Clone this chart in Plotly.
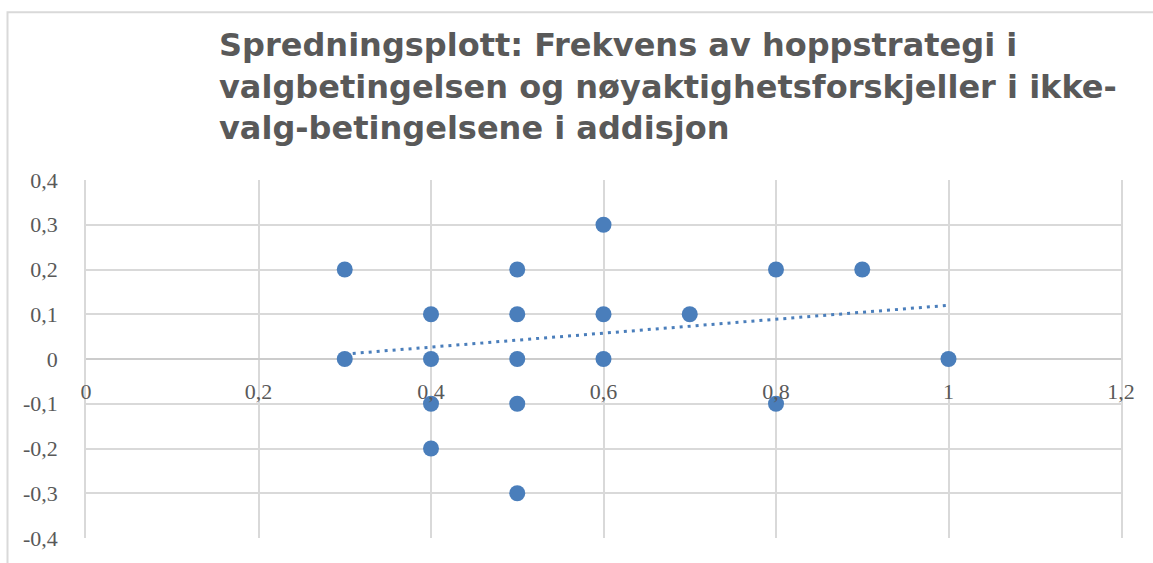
import plotly.graph_objects as go

# Data
hop_freq = [0.3, 0.3, 0.4, 0.4, 0.4, 0.4, 0.5, 0.5, 0.5, 0.5, 0.5,
            0.6, 0.6, 0.6, 0.7, 0.8, 0.8, 0.9, 1.0]
acc_diff = [0.2, 0.0, 0.1, 0.0, -0.1, -0.2, 0.2, 0.1, 0.0, -0.1, -0.3,
            0.3, 0.1, 0.0, 0.1, 0.2, -0.1, 0.2, 0.0]
trend_x = [0.3, 1.0]
trend_y = [0.011, 0.12]
x_ticks = [0, 0.2, 0.4, 0.6, 0.8, 1, 1.2]
x_tick_labels = ["0", "0,2", "0,4", "0,6", "0,8", "1", "1,2"]
y_ticks = [-0.4, -0.3, -0.2, -0.1, 0, 0.1, 0.2, 0.3, 0.4]
y_tick_labels = ["-0,4", "-0,3", "-0,2", "-0,1", "0", "0,1", "0,2", "0,3", "0,4"]
title_text = ("Spredningsplott: Frekvens av hoppstrategi i<br>"
              "valgbetingelsen og nøyaktighetsforskjeller i ikke-<br>"
              "valg-betingelsene i addisjon")

W, H = 1153, 563
L, R, T, B = 86, 32, 180, 20
pw, ph = W - L - R, H - T - B

def px_x(p):
    return (p - L) / pw

def px_y(p):
    return (H - B - p) / ph

blue = "#4a7ebb"
grid = "#d9d9d9"
txt = "#595959"

fig = go.Figure()
fig.add_trace(go.Scatter(x=trend_x, y=trend_y, mode="lines",
                         line=dict(color=blue, width=3, dash="3px,5px"),
                         hoverinfo="skip", showlegend=False))
fig.add_trace(go.Scatter(x=hop_freq, y=acc_diff, mode="markers",
                         marker=dict(color=blue, size=16),
                         showlegend=False))

tick_font = dict(family="Liberation Serif, DejaVu Serif, serif", size=22, color=txt)

fig.update_layout(
    width=W, height=H,
    margin=dict(l=L, r=R, t=T, b=B),
    paper_bgcolor="white", plot_bgcolor="white",
    separators=", ",
    xaxis=dict(range=[0, 1.2], tickvals=x_ticks, ticktext=x_tick_labels,
               showgrid=True, gridcolor=grid,
               gridwidth=1.5, zeroline=False, showline=False,
               anchor="free", position=0.5, tickfont=tick_font,
               ticklabelstandoff=17, fixedrange=True),
    yaxis=dict(range=[-0.4, 0.4], tickvals=y_ticks, ticktext=y_tick_labels,
               showgrid=True, gridcolor=grid,
               gridwidth=1.5, zeroline=True, zerolinecolor="#cccccc", zerolinewidth=2,
               showline=True, linecolor=grid, linewidth=1.5, mirror=True,
               tickfont=tick_font, ticklabelstandoff=22, fixedrange=True),
    annotations=[dict(text=title_text, xref="paper", yref="paper",
                      x=px_x(217), y=px_y(22), xanchor="left", yanchor="top",
                      align="left", showarrow=False,
                      font=dict(family="DejaVu Sans", size=32, color=txt,
                                weight="bold"))],
    shapes=[dict(type="rect", xref="paper", yref="paper",
                 x0=px_x(7.5), x1=px_x(1170), y0=px_y(580), y1=px_y(10),
                 line=dict(color=grid, width=2), fillcolor="rgba(0,0,0,0)",
                 layer="below")],
)

fig.write_html("out.html", config={"displayModeBar": False},
               post_script="document.body.style.margin='0';")
